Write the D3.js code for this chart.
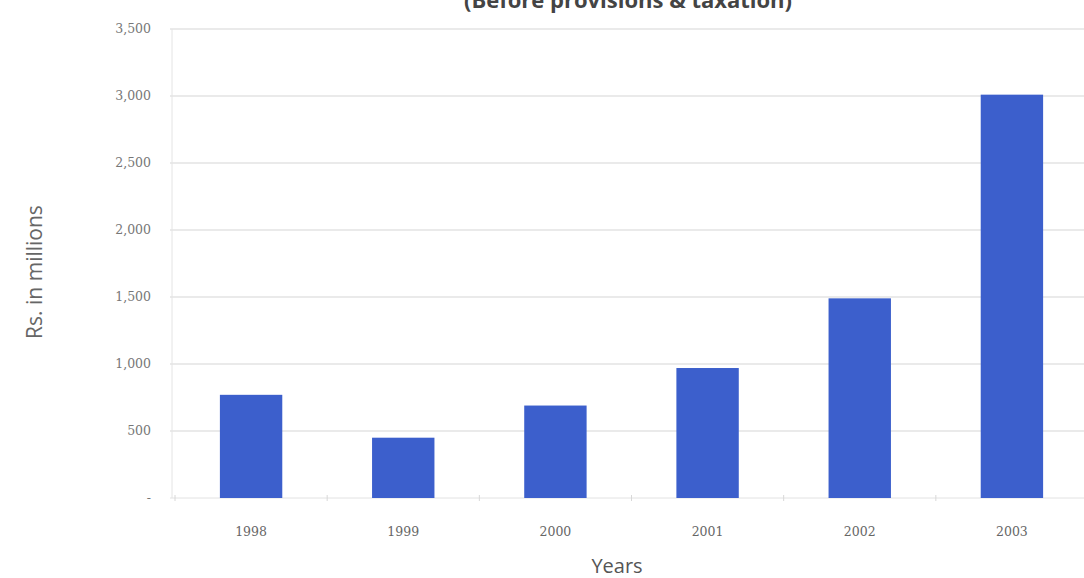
<!DOCTYPE html>
<html>
<head>
<meta charset="utf-8">
<script src="https://cdn.jsdelivr.net/npm/d3@7"></script>
<style>
  body { margin: 0; background: #fff; }
  svg { display: block; }
</style>
</head>
<body>
<div id="chart"></div>
<script>
const years = ['1998', '1999', '2000', '2001', '2002', '2003'];
const profits = [770, 450, 690, 970, 1490, 3010];
const yTicks = [0, 500, 1000, 1500, 2000, 2500, 3000, 3500];

const width = 1084;
const height = 578;
const margin = {top: 29, right: -4, bottom: 80, left: 175};

const svg = d3.select('#chart')
    .append('svg')
    .attr('width', width)
    .attr('height', height);

const x = d3.scaleBand()
    .domain(years)
    .range([margin.left, width - margin.right])
    .paddingInner(0.59)
    .paddingOuter(0.295);

const y = d3.scaleLinear()
    .domain([0, 3500])
    .range([height - margin.bottom, margin.top]);

const serif = '"DejaVu Serif", "Liberation Serif", serif';
const sans = '"Open Sans", "DejaVu Sans", sans-serif';

// grid lines
svg.append('g')
    .selectAll('line')
    .data(yTicks.filter((d) => d > 0))
    .join('line')
    .attr('x1', margin.left - 5)
    .attr('x2', width)
    .attr('y1', (d) => y(d))
    .attr('y2', (d) => y(d))
    .attr('stroke', '#d6d6d6')
    .attr('stroke-width', 1.2);

// left axis line
svg.append('line')
    .attr('x1', margin.left - 3)
    .attr('x2', margin.left - 3)
    .attr('y1', y(3500))
    .attr('y2', y(0))
    .attr('stroke', '#e4e4e4');

// baseline + small ticks between categories
svg.append('line')
    .attr('x1', margin.left - 5)
    .attr('x2', width)
    .attr('y1', y(0))
    .attr('y2', y(0))
    .attr('stroke', '#e2e2e2');

svg.append('g')
    .selectAll('line')
    .data(years)
    .join('line')
    .attr('x1', (d) => x(d) - x.step() * 0.295)
    .attr('x2', (d) => x(d) - x.step() * 0.295)
    .attr('y1', y(0) - 3)
    .attr('y2', y(0) + 3)
    .attr('stroke', '#d8d8d8');

// y tick labels
svg.append('g')
    .selectAll('text')
    .data(yTicks)
    .join('text')
    .attr('x', 151)
    .attr('y', (d) => y(d) + 4)
    .attr('text-anchor', 'end')
    .attr('font-family', serif)
    .attr('font-size', 12.5)
    .attr('fill', '#777')
    .text((d) => d === 0 ? '-' : d3.format(',')(d));

// bars
svg.append('g')
    .selectAll('rect')
    .data(years.map((yr, i) => ({yr, v: profits[i]})))
    .join('rect')
    .attr('x', (d) => x(d.yr))
    .attr('y', (d) => y(d.v))
    .attr('width', x.bandwidth())
    .attr('height', (d) => y(0) - y(d.v))
    .attr('fill', '#3c5fcc');

// x tick labels
svg.append('g')
    .selectAll('text')
    .data(years)
    .join('text')
    .attr('x', (d) => x(d) + x.bandwidth() / 2)
    .attr('y', 536)
    .attr('text-anchor', 'middle')
    .attr('font-family', serif)
    .attr('font-size', 12.5)
    .attr('fill', '#666')
    .text((d) => d);

// axis titles
svg.append('text')
    .attr('x', 617)
    .attr('y', 573)
    .attr('text-anchor', 'middle')
    .attr('font-family', sans)
    .attr('font-size', 20)
    .attr('fill', '#555')
    .text('Years');

svg.append('text')
    .attr('transform', 'translate(42,272) rotate(-90)')
    .attr('text-anchor', 'middle')
    .attr('font-family', sans)
    .attr('font-size', 21)
    .attr('fill', '#666')
    .text('Rs. in millions');

// title, cut off at the top as in the source
svg.append('text')
    .attr('x', 628)
    .attr('y', 8)
    .attr('text-anchor', 'middle')
    .attr('font-family', sans)
    .attr('font-weight', 'bold')
    .attr('font-size', 22)
    .attr('fill', '#444')
    .text('(Before provisions & taxation)');
</script>
</body>
</html>
